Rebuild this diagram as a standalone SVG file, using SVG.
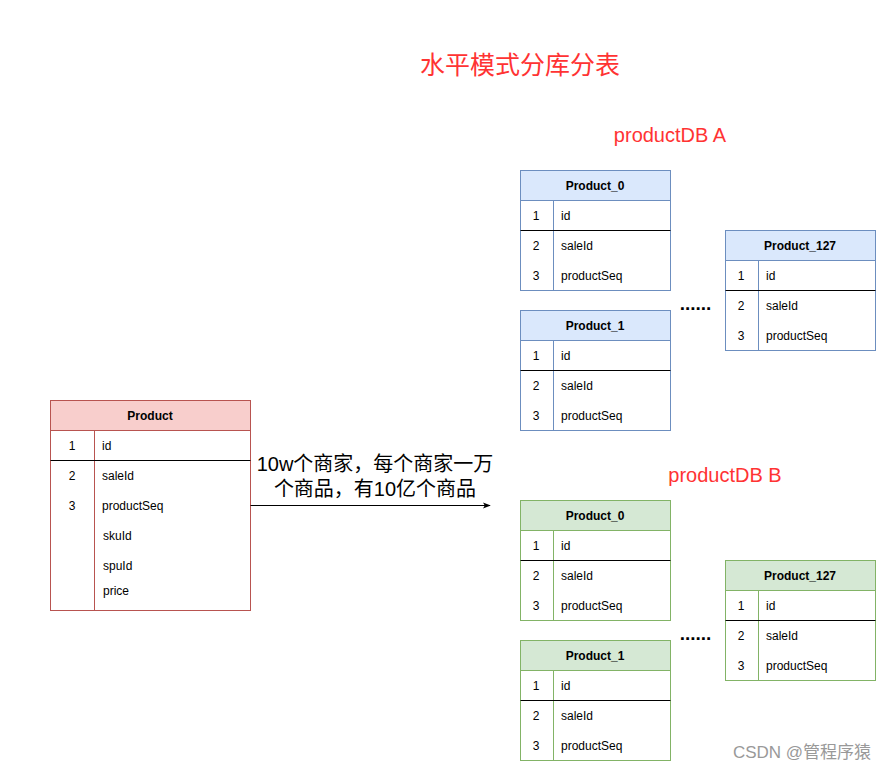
<svg xmlns="http://www.w3.org/2000/svg" width="886" height="771" viewBox="0 0 886 771">
<defs>
<style>
text{font-family:"Liberation Sans","Noto Sans CJK SC",Arial,sans-serif;}
.hd{font-size:12px;font-weight:bold;text-anchor:middle;fill:#000;}
.f{font-size:12px;fill:#000;}
.n{font-size:12px;fill:#000;text-anchor:middle;}
.red{fill:#FF3333;}
.div{stroke:#000;stroke-width:1;}
.blue .box{fill:#fff;stroke:#6c8ebf;}
.blue .head{fill:#dae8fc;stroke:#6c8ebf;}
.blue .col{stroke:#6c8ebf;}
.green .box{fill:#fff;stroke:#82b366;}
.green .head{fill:#d5e8d4;stroke:#82b366;}
.green .col{stroke:#82b366;}
.pink .box{fill:#fff;stroke:#b85450;}
.pink .head{fill:#f8cecc;stroke:#b85450;}
.pink .col{stroke:#b85450;}
.dots{font-size:19px;font-weight:bold;fill:#000;}
</style>
<marker id="arr" viewBox="0 0 10 10" refX="9" refY="5" markerWidth="8" markerHeight="8" markerUnits="userSpaceOnUse" orient="auto">
<path d="M0,1 L10,5 L0,9 L2.5,5 Z" fill="#000"/>
</marker>
</defs>
<rect width="886" height="771" fill="#fff"/>

<text x="520" y="74" class="red" font-size="25" text-anchor="middle">水平模式分库分表</text>
<text x="670" y="142" class="red" font-size="20" text-anchor="middle">productDB A</text>
<text x="725" y="482" class="red" font-size="20" text-anchor="middle">productDB B</text>

<g id="product" class="pink">
<rect class="box" x="50.5" y="400.5" width="200" height="210"/>
<rect class="head" x="50.5" y="400.5" width="200" height="30"/>
<line class="col" x1="94.5" y1="430.5" x2="94.5" y2="610.5"/>
<line class="div" x1="50.5" y1="460.5" x2="250.5" y2="460.5"/>
<text class="hd" x="150" y="420">Product</text>
<text class="n" x="72" y="450">1</text><text class="f" x="102" y="450">id</text>
<text class="n" x="72" y="480">2</text><text class="f" x="102" y="480">saleId</text>
<text class="n" x="72" y="510">3</text><text class="f" x="102" y="510">productSeq</text>
<text class="f" x="103" y="540">skuId</text>
<text class="f" x="103" y="570">spuId</text>
<text class="f" x="103" y="595">price</text>
</g>

<g id="a_product_0" class="blue" transform="translate(520,170)">
<rect class="box" x="0.5" y="0.5" width="150" height="120"/>
<rect class="head" x="0.5" y="0.5" width="150" height="30"/>
<line class="col" x1="33.5" y1="30.5" x2="33.5" y2="120.5"/>
<line class="div" x1="0.5" y1="60.5" x2="150.5" y2="60.5"/>
<text class="hd" x="75" y="20">Product_0</text>
<text class="n" x="16" y="50">1</text><text class="f" x="41" y="50">id</text>
<text class="n" x="16" y="80">2</text><text class="f" x="41" y="80">saleId</text>
<text class="n" x="16" y="110">3</text><text class="f" x="41" y="110">productSeq</text>
</g>

<g id="a_product_1" class="blue" transform="translate(520,310)">
<rect class="box" x="0.5" y="0.5" width="150" height="120"/>
<rect class="head" x="0.5" y="0.5" width="150" height="30"/>
<line class="col" x1="33.5" y1="30.5" x2="33.5" y2="120.5"/>
<line class="div" x1="0.5" y1="60.5" x2="150.5" y2="60.5"/>
<text class="hd" x="75" y="20">Product_1</text>
<text class="n" x="16" y="50">1</text><text class="f" x="41" y="50">id</text>
<text class="n" x="16" y="80">2</text><text class="f" x="41" y="80">saleId</text>
<text class="n" x="16" y="110">3</text><text class="f" x="41" y="110">productSeq</text>
</g>

<g id="a_product_127" class="blue" transform="translate(725,230)">
<rect class="box" x="0.5" y="0.5" width="150" height="120"/>
<rect class="head" x="0.5" y="0.5" width="150" height="30"/>
<line class="col" x1="33.5" y1="30.5" x2="33.5" y2="120.5"/>
<line class="div" x1="0.5" y1="60.5" x2="150.5" y2="60.5"/>
<text class="hd" x="75" y="20">Product_127</text>
<text class="n" x="16" y="50">1</text><text class="f" x="41" y="50">id</text>
<text class="n" x="16" y="80">2</text><text class="f" x="41" y="80">saleId</text>
<text class="n" x="16" y="110">3</text><text class="f" x="41" y="110">productSeq</text>
</g>

<g id="b_product_0" class="green" transform="translate(520,500)">
<rect class="box" x="0.5" y="0.5" width="150" height="120"/>
<rect class="head" x="0.5" y="0.5" width="150" height="30"/>
<line class="col" x1="33.5" y1="30.5" x2="33.5" y2="120.5"/>
<line class="div" x1="0.5" y1="60.5" x2="150.5" y2="60.5"/>
<text class="hd" x="75" y="20">Product_0</text>
<text class="n" x="16" y="50">1</text><text class="f" x="41" y="50">id</text>
<text class="n" x="16" y="80">2</text><text class="f" x="41" y="80">saleId</text>
<text class="n" x="16" y="110">3</text><text class="f" x="41" y="110">productSeq</text>
</g>

<g id="b_product_1" class="green" transform="translate(520,640)">
<rect class="box" x="0.5" y="0.5" width="150" height="120"/>
<rect class="head" x="0.5" y="0.5" width="150" height="30"/>
<line class="col" x1="33.5" y1="30.5" x2="33.5" y2="120.5"/>
<line class="div" x1="0.5" y1="60.5" x2="150.5" y2="60.5"/>
<text class="hd" x="75" y="20">Product_1</text>
<text class="n" x="16" y="50">1</text><text class="f" x="41" y="50">id</text>
<text class="n" x="16" y="80">2</text><text class="f" x="41" y="80">saleId</text>
<text class="n" x="16" y="110">3</text><text class="f" x="41" y="110">productSeq</text>
</g>

<g id="b_product_127" class="green" transform="translate(725,560)">
<rect class="box" x="0.5" y="0.5" width="150" height="120"/>
<rect class="head" x="0.5" y="0.5" width="150" height="30"/>
<line class="col" x1="33.5" y1="30.5" x2="33.5" y2="120.5"/>
<line class="div" x1="0.5" y1="60.5" x2="150.5" y2="60.5"/>
<text class="hd" x="75" y="20">Product_127</text>
<text class="n" x="16" y="50">1</text><text class="f" x="41" y="50">id</text>
<text class="n" x="16" y="80">2</text><text class="f" x="41" y="80">saleId</text>
<text class="n" x="16" y="110">3</text><text class="f" x="41" y="110">productSeq</text>
</g>

<text class="dots" x="695.5" y="310" text-anchor="middle">......</text>
<text class="dots" x="695.5" y="640" text-anchor="middle">......</text>

<g id="connectors">
<line x1="250.5" y1="505.5" x2="490" y2="505.5" stroke="#000" stroke-width="1" marker-end="url(#arr)"/>
<text x="375" y="471" font-size="20" text-anchor="middle" fill="#000">10w个商家，每个商家一万</text>
<text x="375" y="496" font-size="20" text-anchor="middle" fill="#000">个商品，有10亿个商品</text>
</g>

<text x="802" y="758" font-size="17" text-anchor="middle" fill="#999">CSDN @管程序猿</text>
</svg>
